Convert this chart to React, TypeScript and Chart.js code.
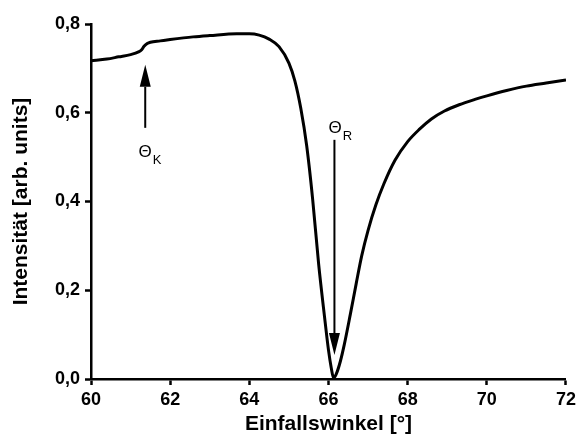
import React, { useEffect, useRef } from "react";
import { Chart, registerables } from "chart.js";

Chart.register(...registerables);

// Incident angle (deg) and reflected intensity
const angles = [
  60.0, 60.4, 60.7, 61.0, 61.2, 61.28, 61.34, 61.42, 61.5, 61.75, 62.0, 62.58, 63.0, 63.68, 64.0,
  64.25, 64.5, 64.75, 65.0, 65.15, 65.3, 65.45, 65.6, 65.75, 65.9, 66.0, 66.07, 66.13,
  66.2, 66.3, 66.4, 66.55, 66.7, 66.84, 67.0, 67.2, 67.4, 67.68, 68.0, 68.3, 68.6, 68.93, 69.3, 69.7,
  70.0, 70.5, 71.0, 71.5, 72.0,
];
const intensity = [
  0.717, 0.721, 0.726, 0.731, 0.737, 0.742, 0.75, 0.756, 0.759, 0.762, 0.765, 0.771, 0.774, 0.778, 0.778,
  0.775, 0.766, 0.749, 0.712, 0.672, 0.61, 0.525, 0.405, 0.26, 0.14, 0.065, 0.025, 0.002,
  0.012, 0.04, 0.078, 0.145, 0.215, 0.278, 0.335, 0.393, 0.44, 0.493, 0.535, 0.563, 0.586, 0.604, 0.618, 0.63,
  0.638, 0.65, 0.66, 0.667, 0.674,
];

const xTicks = [60, 62, 64, 66, 68, 70, 72];
const yTicks = [0.0, 0.2, 0.4, 0.6, 0.8];

// Annotation arrows: angle, start intensity, tip intensity
const arrowAngle = [61.37, 66.15];
const arrowFrom = [0.566, 0.539];
const arrowTo = [0.708, 0.054];
// Annotation labels: Θ with subscript
const labelAngle = [61.2, 66.0];
const labelIntensity = [0.501, 0.554];
const labelSub = ["K", "R"];

const xTitle = "Einfallswinkel [°]";
const yTitle = "Intensität [arb. units]";

const annotationPlugin = {
  id: "sprAnnotations",
  afterDatasetsDraw(chart: any) {
    const { ctx, scales } = chart;
    const xs = scales.x;
    const ys = scales.y;
    ctx.save();
    ctx.fillStyle = "#000";
    ctx.strokeStyle = "#000";
    for (let i = 0; i < arrowAngle.length; i++) {
      const x = xs.getPixelForValue(arrowAngle[i]);
      const y0 = ys.getPixelForValue(arrowFrom[i]);
      const y1 = ys.getPixelForValue(arrowTo[i]);
      const dir = y1 < y0 ? -1 : 1;
      const headLen = 22;
      const headHalf = 5.5;
      ctx.lineWidth = 2;
      ctx.beginPath();
      ctx.moveTo(x, y0);
      ctx.lineTo(x, y1 - dir * headLen);
      ctx.stroke();
      ctx.beginPath();
      ctx.moveTo(x, y1);
      ctx.lineTo(x - headHalf, y1 - dir * headLen);
      ctx.lineTo(x + headHalf, y1 - dir * headLen);
      ctx.closePath();
      ctx.fill();
    }
    for (let i = 0; i < labelAngle.length; i++) {
      const x = xs.getPixelForValue(labelAngle[i]);
      const y = ys.getPixelForValue(labelIntensity[i]);
      ctx.textAlign = "left";
      ctx.textBaseline = "alphabetic";
      ctx.font = "17px 'Liberation Sans', Arial, sans-serif";
      ctx.fillText("Θ", x, y);
      const w = ctx.measureText("Θ").width;
      ctx.font = "13px 'Liberation Sans', Arial, sans-serif";
      ctx.fillText(labelSub[i], x + w + 1, y + 7);
    }
    ctx.restore();
  },
};

export default function App() {
  const ref = useRef<HTMLCanvasElement>(null);
  useEffect(() => {
    if (!ref.current) return;
    const tickFont = { family: "'Liberation Sans', Arial, sans-serif", size: 18, weight: "bold" as const };
    const titleFont = { family: "'Liberation Sans', Arial, sans-serif", size: 21, weight: "bold" as const };
    const chart = new Chart(ref.current, {
      type: "line",
      data: {
        datasets: [
          {
            data: angles.map((a, i) => ({ x: a, y: intensity[i] })),
            borderColor: "#000",
            borderWidth: 3,
            pointRadius: 0,
            fill: false,
            cubicInterpolationMode: "monotone",
          },
        ],
      },
      options: {
        animation: false,
        responsive: false,
        events: [],
        layout: { padding: { left: 0, right: 10, top: 24, bottom: 0 } },
        plugins: { legend: { display: false }, tooltip: { enabled: false } },
        scales: {
          x: {
            type: "linear",
            min: xTicks[0],
            max: xTicks[xTicks.length - 1],
            afterBuildTicks: (s: any) => {
              s.ticks = xTicks.map((v) => ({ value: v }));
            },
            afterFit: (s: any) => {
              s.height = 63;
            },
            ticks: {
              color: "#000",
              font: tickFont,
              padding: 4,
              maxRotation: 0,
              callback: (v: any) => String(v),
            },
            grid: {
              drawOnChartArea: false,
              drawTicks: true,
              tickLength: 6,
              tickWidth: 2.5,
              tickColor: "#000",
            },
            border: { display: true, color: "#000", width: 2.5 },
            title: { display: true, text: xTitle, color: "#000", font: titleFont, padding: { top: 0, bottom: 5 } },
          },
          y: {
            type: "linear",
            min: yTicks[0],
            max: yTicks[yTicks.length - 1],
            afterBuildTicks: (s: any) => {
              s.ticks = yTicks.map((v) => ({ value: v }));
            },
            afterFit: (s: any) => {
              s.width = 91;
            },
            ticks: {
              color: "#000",
              font: tickFont,
              padding: 5,
              callback: (v: any) => Number(v).toFixed(1).replace(".", ","),
            },
            grid: {
              drawOnChartArea: false,
              drawTicks: true,
              tickLength: 6,
              tickWidth: 2.5,
              tickColor: "#000",
            },
            border: { display: true, color: "#000", width: 2.5 },
            title: { display: true, text: yTitle, color: "#000", font: titleFont, padding: { top: 9, bottom: 0 } },
          },
        },
      },
      plugins: [annotationPlugin],
    } as any);
    return () => chart.destroy();
  }, []);
  return (
    <div style={{ position: "absolute", left: 0, top: 0, width: 580, height: 442, background: "#fff" }}>
      <canvas ref={ref} width={580} height={442} style={{ display: "block" }} />
    </div>
  );
}
